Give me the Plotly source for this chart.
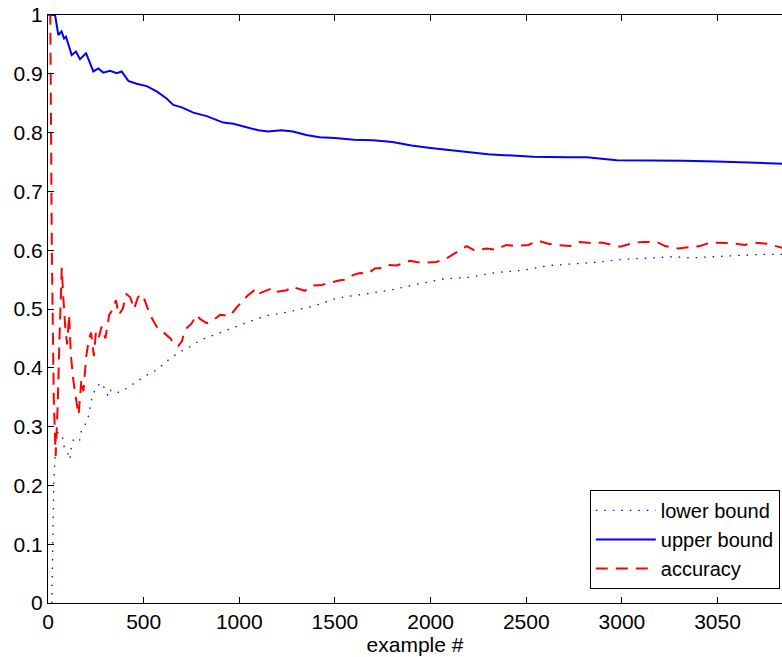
import plotly.graph_objects as go

# ---- data ----
upper_x = [0, 37, 54, 71, 84, 94, 124, 146, 167, 199, 237, 263, 289, 324, 359, 385, 420, 463, 516, 568,
           620, 655, 699, 760, 830, 916, 969, 1039, 1099, 1150, 1220, 1280, 1350, 1420, 1500, 1600, 1700,
           1800, 1900, 2000, 2100, 2200, 2300, 2363, 2450, 2535, 2711, 2816, 2973, 3147, 3320, 3495, 3840]
upper_y = [1.0, 1.0, 0.966, 0.972, 0.960, 0.963, 0.932, 0.938, 0.925, 0.935, 0.904, 0.909, 0.902, 0.905,
           0.901, 0.904, 0.888, 0.883, 0.879, 0.870, 0.858, 0.847, 0.843, 0.834, 0.828, 0.817, 0.815, 0.809,
           0.804, 0.802, 0.804, 0.802, 0.796, 0.792, 0.791, 0.788, 0.787, 0.784, 0.778, 0.774, 0.770, 0.767,
           0.763, 0.762, 0.760, 0.759, 0.758, 0.758, 0.753, 0.753, 0.752, 0.751, 0.747]

lower_x = [20, 25, 30, 37, 42, 54, 77, 84, 101, 115, 119, 132, 164, 171, 188, 206, 216, 225, 233, 254, 272,
           298, 315, 329, 355, 380, 411, 443, 472, 519, 551, 585, 638, 690, 750, 795, 860, 934, 1000, 1073,
           1150, 1256, 1387, 1518, 1648, 1788, 1927, 2066, 2206, 2345, 2485, 2624, 2711, 2851, 2990, 3130,
           3269, 3368, 3461, 3600, 3739, 3840]
lower_y = [0.0, 0.10, 0.20, 0.25, 0.283, 0.291, 0.280, 0.266, 0.257, 0.244, 0.260, 0.277, 0.274, 0.290,
           0.300, 0.310, 0.325, 0.340, 0.355, 0.365, 0.375, 0.365, 0.351, 0.362, 0.358, 0.359, 0.365, 0.372,
           0.378, 0.388, 0.393, 0.401, 0.416, 0.427, 0.437, 0.447, 0.455, 0.464, 0.473, 0.481, 0.489, 0.495,
           0.505, 0.519, 0.525, 0.532, 0.542, 0.551, 0.554, 0.562, 0.566, 0.574, 0.576, 0.579, 0.584, 0.587,
           0.589, 0.587, 0.589, 0.591, 0.593, 0.593]

acc_x = [0, 12, 20, 30, 40, 50, 60, 72, 80, 90, 100, 110, 120, 132, 145, 160, 175, 185, 200, 215, 225, 240,
         250, 265, 280, 300, 320, 340, 355, 370, 390, 410, 430, 450, 470, 490, 500, 533, 568, 620, 640, 660,
         680, 700, 716, 750, 777, 795, 830, 850, 900, 950, 990, 1047, 1091, 1108, 1169, 1187, 1248, 1274,
         1300, 1343, 1380, 1431, 1480, 1527, 1560, 1596, 1631, 1670, 1710, 1750, 1779, 1822, 1860, 1892,
         1927, 1979, 2030, 2084, 2128, 2189, 2232, 2293, 2337, 2397, 2440, 2511, 2563, 2615, 2659, 2729,
         2781, 2842, 2894, 2955, 2990, 3069, 3112, 3182, 3226, 3295, 3338, 3408, 3461, 3530, 3565, 3643,
         3687, 3757, 3809, 3840]
acc_y = [1.0, 1.0, 0.60, 0.35, 0.25, 0.33, 0.45, 0.57, 0.52, 0.47, 0.44, 0.49, 0.42, 0.38, 0.35, 0.32,
         0.38, 0.36, 0.42, 0.45, 0.46, 0.42, 0.46, 0.45, 0.47, 0.45, 0.49, 0.50, 0.515, 0.49, 0.50, 0.525,
         0.52, 0.50, 0.52, 0.525, 0.52, 0.49, 0.47, 0.455, 0.45, 0.44, 0.437, 0.445, 0.465, 0.475, 0.49,
         0.483, 0.476, 0.478, 0.49, 0.488, 0.504, 0.524, 0.535, 0.527, 0.535, 0.529, 0.532, 0.538, 0.535,
         0.531, 0.54, 0.541, 0.545, 0.549, 0.55, 0.558, 0.561, 0.56, 0.569, 0.57, 0.575, 0.574, 0.578,
         0.582, 0.580, 0.579, 0.58, 0.586, 0.595, 0.607, 0.599, 0.603, 0.601, 0.609, 0.607, 0.609, 0.616,
         0.611, 0.609, 0.607, 0.614, 0.612, 0.613, 0.609, 0.606, 0.613, 0.614, 0.614, 0.607, 0.603, 0.605,
         0.607, 0.613, 0.613, 0.612, 0.609, 0.613, 0.611, 0.607, 0.604]

x_tickvals = [0, 500, 1000, 1500, 2000, 2500, 3000, 3500]
x_ticktext = ["0", "500", "1000", "1500", "2000", "2500", "3000", "3050"]
y_tickvals = [0, 0.1, 0.2, 0.3, 0.4, 0.5, 0.6, 0.7, 0.8, 0.9, 1.0]
y_ticktext = ["0", "0.1", "0.2", "0.3", "0.4", "0.5", "0.6", "0.7", "0.8", "0.9", "1"]

FONT = "Liberation Sans, Arial, Helvetica, sans-serif"
FS = 21

fig = go.Figure()
fig.add_trace(go.Scatter(x=lower_x, y=lower_y, mode="lines", name="lower bound",
                         line=dict(color="#0000ff", width=1.3, dash="1.5px,7px")))
fig.add_trace(go.Scatter(x=upper_x, y=upper_y, mode="lines", name="upper bound",
                         line=dict(color="#0000ff", width=2)))
fig.add_trace(go.Scatter(x=acc_x, y=acc_y, mode="lines", name="accuracy",
                         line=dict(color="#ff0000", width=2, dash="12px,8px")))
# invisible trace on the top axis to draw top ticks
fig.add_trace(go.Scatter(x=[0], y=[0], xaxis="x2", mode="lines", showlegend=False,
                         line=dict(width=0), hoverinfo="skip"))

XR = [0, 3837]
fig.update_layout(
    width=782, height=657,
    margin=dict(l=48, r=0, t=15, b=54),
    plot_bgcolor="white", paper_bgcolor="white",
    font=dict(family=FONT, size=FS, color="black"),
    xaxis=dict(range=XR, tickvals=x_tickvals, ticktext=x_ticktext, ticks="inside", ticklen=6,
               tickcolor="black", showline=True, linecolor="black", linewidth=1.2, showgrid=False,
               zeroline=False, title=dict(text="example #", standoff=0, font=dict(size=FS)),
               tickfont=dict(size=FS)),
    xaxis2=dict(range=XR, overlaying="x", side="top", tickvals=x_tickvals, ticks="inside", ticklen=6,
                tickcolor="black", showticklabels=False, showline=True, linecolor="black", linewidth=1.2,
                showgrid=False, zeroline=False),
    yaxis=dict(range=[0, 1], tickvals=y_tickvals, ticktext=y_ticktext, ticks="inside", ticklen=6,
               tickcolor="black", showline=True, linecolor="black", linewidth=1.2, showgrid=False,
               zeroline=False, tickfont=dict(size=FS)),
    legend=dict(x=0.997, xanchor="right", y=0.024, yanchor="bottom", bgcolor="white",
                bordercolor="black", borderwidth=1, font=dict(size=20), itemwidth=60,
                tracegroupgap=0),
    showlegend=True,
)

fig.write_html("out.html")
